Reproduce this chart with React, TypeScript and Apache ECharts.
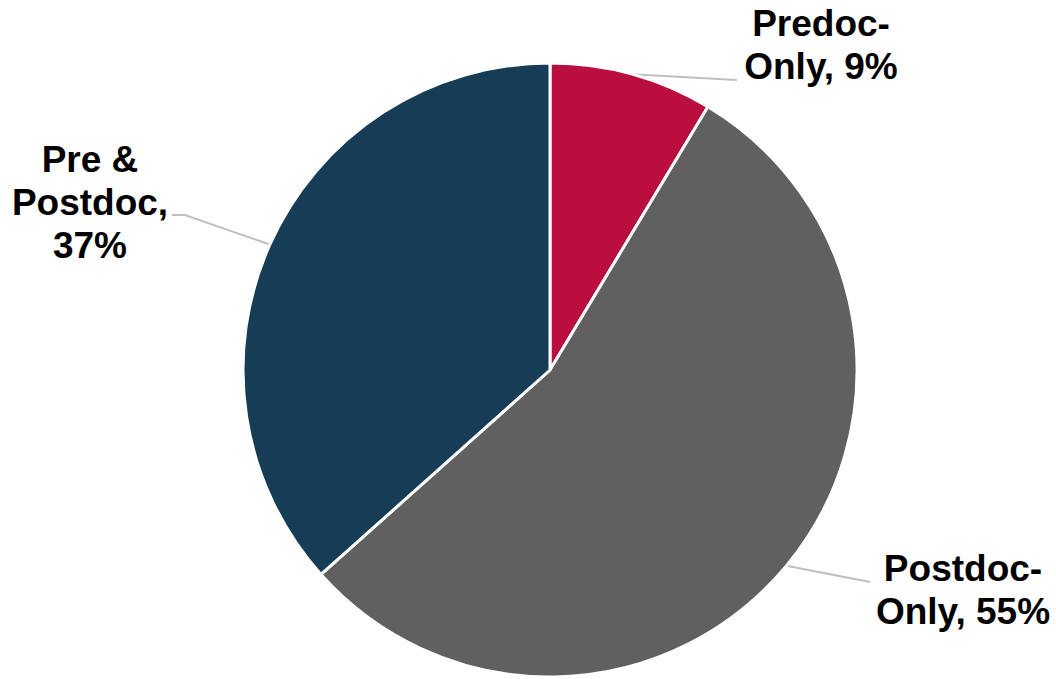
import React, { useEffect, useRef } from "react";
import * as echarts from "echarts";

const categories = ["Predoc-\nOnly", "Postdoc-\nOnly", "Pre &\nPostdoc"];
const values = [8.6, 54.8, 36.6];
const percentLabels = ["9%", "55%", "37%"];
const separators = [", ", ", ", ",\n"];
const colors = ["#BA0F3E", "#606060", "#163C56"];

const labelCenters = [
  [821, 45],
  [963, 590],
  [90, 202],
];
// end points of the leader lines (next to the labels)
const leaderEnds = [
  [[737, 80], [737, 80]],
  [[870, 582], [870, 582]],
  [[185, 215], [172, 215]],
];

export default function App() {
  const ref = useRef<HTMLDivElement>(null);
  useEffect(() => {
    if (!ref.current) return;
    const chart = echarts.init(ref.current, undefined, { renderer: "svg" });
    chart.setOption({
      animation: false,
      backgroundColor: "#ffffff",
      series: [
        {
          type: "pie",
          center: [550, 370],
          radius: [0, 307],
          startAngle: 90,
          clockwise: true,
          data: categories.map((c, i) => ({
            name: c,
            value: values[i],
            itemStyle: { color: colors[i] },
          })),
          itemStyle: { borderColor: "#ffffff", borderWidth: 3 },
          label: {
            show: true,
            position: "outside",
            formatter: (p: any) =>
              categories[p.dataIndex] + separators[p.dataIndex] + percentLabels[p.dataIndex],
            fontFamily: "Liberation Sans, Arial, sans-serif",
            fontWeight: "bold",
            fontSize: 37,
            lineHeight: 43,
            color: "#000000",
            align: "center",
          },
          labelLine: {
            show: true,
            length: 20,
            length2: 40,
            lineStyle: { color: "#BFBFBF", width: 2 },
          },
          labelLayout: (params: any) => {
            const i = params.dataIndex;
            const out: any = {
              x: labelCenters[i][0],
              y: labelCenters[i][1],
              align: "center",
              verticalAlign: "middle",
            };
            if (params.labelLinePoints && params.labelLinePoints[0]) {
              out.labelLinePoints = [
                params.labelLinePoints[0],
                leaderEnds[i][0],
                leaderEnds[i][1],
              ];
            }
            return out;
          },
          emphasis: { disabled: true },
        },
      ],
    });
    return () => chart.dispose();
  }, []);
  return (
    <div
      ref={ref}
      style={{ position: "absolute", left: 0, top: 0, width: 1056, height: 679 }}
    />
  );
}
